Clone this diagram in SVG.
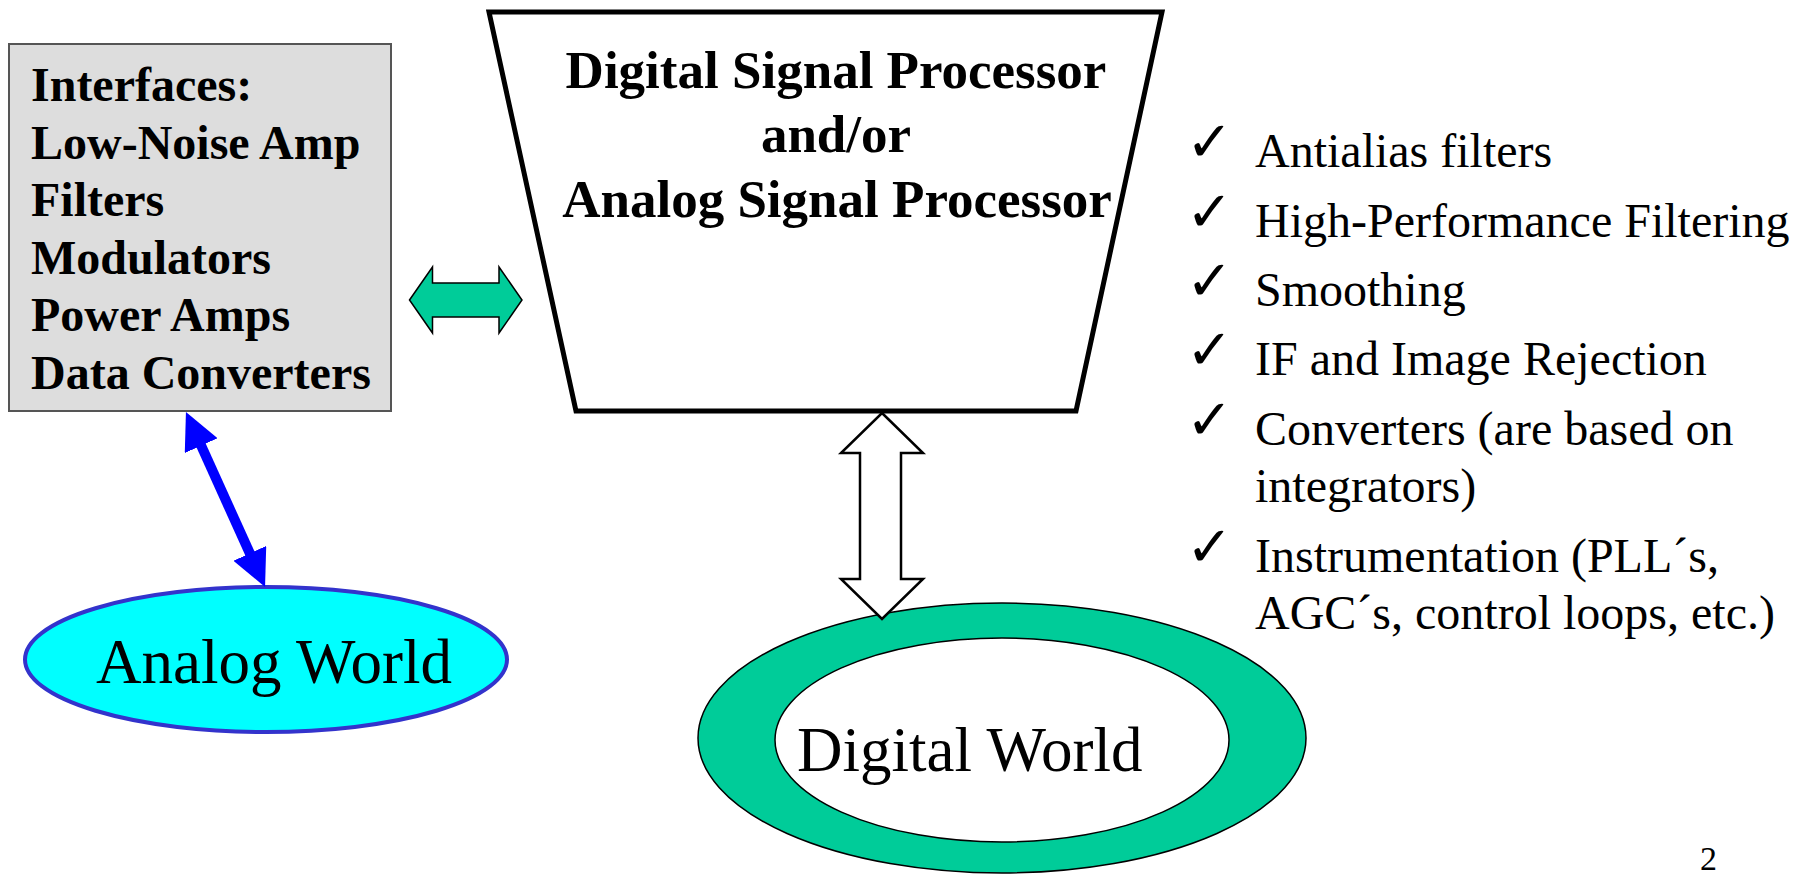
<svg xmlns="http://www.w3.org/2000/svg" width="1803" height="874" viewBox="0 0 1803 874">
<style>
.bold{font-family:"Liberation Serif","Times New Roman",serif;font-weight:bold;fill:#000}
.reg{font-family:"Liberation Serif","Times New Roman",serif;fill:#000}
.chk{font-family:"DejaVu Sans",sans-serif;fill:#000;font-size:56px}
.list{font-size:48px}
</style>
<defs>
<marker id="blueHead" viewBox="0 0 37 36" refX="7" refY="18" markerWidth="37" markerHeight="36" markerUnits="userSpaceOnUse" orient="auto-start-reverse">
<path d="M0,0 L37,18 L0,36 Z" fill="#0000FF"/>
</marker>
</defs>
<rect width="1803" height="874" fill="#FFFFFF"/>

<g id="interfaces">
<rect x="9" y="44" width="382" height="367" fill="#DDDDDD" stroke="#555555" stroke-width="2"/>
<text class="bold" font-size="48" x="31" y="101">Interfaces:</text>
<text class="bold" font-size="48" x="31" y="159">Low-Noise Amp</text>
<text class="bold" font-size="48" x="31" y="216">Filters</text>
<text class="bold" font-size="48" x="31" y="274">Modulators</text>
<text class="bold" font-size="48" x="31" y="331">Power Amps</text>
<text class="bold" font-size="48" x="31" y="389">Data Converters</text>
</g>

<g id="processor">
<polygon points="489,12 1162,12 1076,411 576,411" fill="#FFFFFF" stroke="#000000" stroke-width="5"/>
<text class="bold" font-size="53" x="836" y="88" text-anchor="middle">Digital Signal Processor</text>
<text class="bold" font-size="53" x="836" y="152" text-anchor="middle">and/or</text>
<text class="bold" font-size="53" x="837" y="217" text-anchor="middle">Analog Signal Processor</text>
</g>

<g id="analog-world">
<ellipse cx="266" cy="659.5" rx="241" ry="72.5" fill="#00FFFF" stroke="#3333CC" stroke-width="4"/>
<text class="reg" font-size="63" x="274" y="683" text-anchor="middle">Analog World</text>
</g>

<g id="digital-world">
<ellipse cx="1002" cy="738" rx="304" ry="135" fill="#00CC99" stroke="#000000" stroke-width="1.5"/>
<ellipse cx="1002" cy="740" rx="227" ry="102" fill="#FFFFFF" stroke="#000000" stroke-width="1.5"/>
<text class="reg" font-size="63" x="797" y="771">Digital World</text>
</g>

<g id="connectors">
<polygon points="409.5,300 432.5,267 432.5,283 499,283 499,267 522,300 499,333 499,317 432.5,317 432.5,333" fill="#00CC99" stroke="#000000" stroke-width="1.5"/>
<line x1="198.3" y1="439.3" x2="252.7" y2="559.7" stroke="#0000FF" stroke-width="10" marker-start="url(#blueHead)" marker-end="url(#blueHead)"/>
<polygon points="882,413 923,453 901,453 901,579 923,579 882,619 841,579 860,579 860,453 841,453" fill="#FFFFFF" stroke="#000000" stroke-width="2.5"/>
</g>

<g id="applications">
<text class="chk" x="1186" y="161">✓</text>
<text class="reg list" x="1255" y="167">Antialias filters</text>
<text class="chk" x="1186" y="231">✓</text>
<text class="reg list" x="1255" y="237">High-Performance Filtering</text>
<text class="chk" x="1186" y="300">✓</text>
<text class="reg list" x="1255" y="306">Smoothing</text>
<text class="chk" x="1186" y="369">✓</text>
<text class="reg list" x="1255" y="375">IF and Image Rejection</text>
<text class="chk" x="1186" y="439">✓</text>
<text class="reg list" x="1255" y="445">Converters (are based on</text>
<text class="reg list" x="1255" y="502">integrators)</text>
<text class="chk" x="1186" y="566">✓</text>
<text class="reg list" x="1255" y="572">Instrumentation (PLL´s,</text>
<text class="reg list" x="1255" y="629">AGC´s, control loops, etc.)</text>
</g>

<g id="page-number">
<text class="reg" font-size="34" x="1700" y="870">2</text>
</g>
</svg>
